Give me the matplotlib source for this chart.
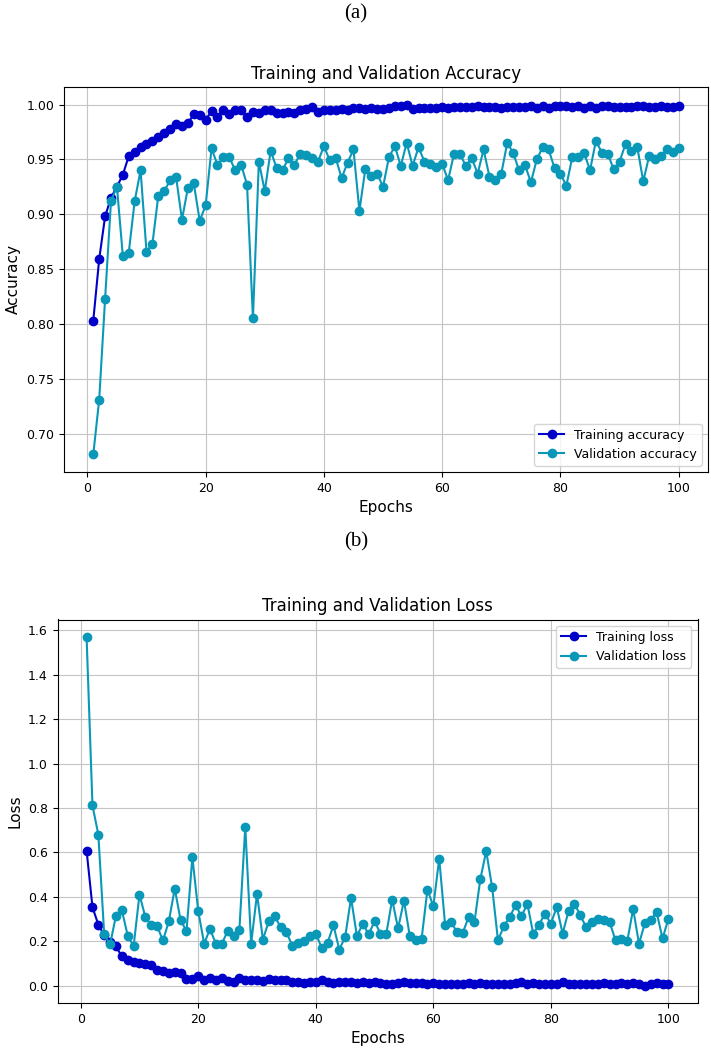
import matplotlib
matplotlib.use("Agg")
import matplotlib.pyplot as plt
import numpy as np

epochs = list(range(1, 101))

train_acc = [
    0.803, 0.859, 0.898, 0.915, 0.925, 0.936, 0.953, 0.957, 0.961, 0.964,
    0.967, 0.970, 0.974, 0.978, 0.982, 0.980, 0.983, 0.991, 0.990, 0.986,
    0.994, 0.989, 0.995, 0.991, 0.995, 0.995, 0.989, 0.993, 0.992, 0.995,
    0.995, 0.992, 0.992, 0.993, 0.992, 0.995, 0.996, 0.998, 0.993, 0.995,
    0.995, 0.995, 0.996, 0.995, 0.997, 0.997, 0.996, 0.997, 0.996, 0.996,
    0.997, 0.999, 0.999, 1.000, 0.996, 0.997, 0.997, 0.997, 0.997, 0.998,
    0.997, 0.998, 0.998, 0.998, 0.998, 0.999, 0.998, 0.998, 0.998, 0.997,
    0.998, 0.998, 0.998, 0.998, 0.999, 0.997, 0.999, 0.997, 0.999, 0.999,
    0.999, 0.998, 0.999, 0.997, 0.999, 0.997, 0.999, 0.999, 0.998, 0.998,
    0.998, 0.998, 0.999, 0.999, 0.998, 0.998, 0.999, 0.998, 0.998, 0.999,
]

val_acc = [
    0.681, 0.731, 0.823, 0.912, 0.925, 0.862, 0.865, 0.912, 0.940, 0.866,
    0.873, 0.917, 0.921, 0.931, 0.934, 0.895, 0.924, 0.928, 0.894, 0.908,
    0.960, 0.945, 0.952, 0.952, 0.940, 0.945, 0.927, 0.805, 0.948, 0.921,
    0.958, 0.942, 0.940, 0.951, 0.945, 0.955, 0.954, 0.951, 0.948, 0.962,
    0.949, 0.951, 0.933, 0.947, 0.959, 0.903, 0.941, 0.935, 0.937, 0.925,
    0.952, 0.962, 0.944, 0.965, 0.944, 0.961, 0.948, 0.946, 0.943, 0.946,
    0.931, 0.955, 0.955, 0.944, 0.951, 0.937, 0.959, 0.934, 0.931, 0.937,
    0.965, 0.956, 0.940, 0.945, 0.929, 0.950, 0.961, 0.959, 0.942, 0.937,
    0.926, 0.952, 0.952, 0.956, 0.940, 0.967, 0.956, 0.955, 0.941, 0.948,
    0.964, 0.958, 0.961, 0.930, 0.953, 0.950, 0.953, 0.959, 0.957, 0.960,
]

train_loss = [
    0.608, 0.353, 0.274, 0.226, 0.198, 0.176, 0.132, 0.117, 0.108, 0.102,
    0.095, 0.093, 0.072, 0.065, 0.057, 0.060, 0.057, 0.030, 0.030, 0.045,
    0.027, 0.033, 0.027, 0.033, 0.020, 0.015, 0.033, 0.026, 0.026, 0.023,
    0.021, 0.030, 0.027, 0.027, 0.023, 0.018, 0.015, 0.011, 0.018, 0.018,
    0.023, 0.015, 0.011, 0.015, 0.015, 0.015, 0.013, 0.015, 0.012, 0.018,
    0.013, 0.008, 0.008, 0.010, 0.015, 0.012, 0.010, 0.012, 0.008, 0.010,
    0.008, 0.007, 0.008, 0.007, 0.008, 0.010, 0.008, 0.010, 0.008, 0.007,
    0.008, 0.008, 0.007, 0.010, 0.015, 0.008, 0.012, 0.008, 0.008, 0.007,
    0.008, 0.015, 0.008, 0.007, 0.008, 0.007, 0.008, 0.007, 0.010, 0.008,
    0.007, 0.010, 0.008, 0.010, 0.008, 0.000, 0.008, 0.010, 0.008, 0.006,
]

val_loss = [
    1.570, 0.811, 0.680, 0.230, 0.185, 0.315, 0.339, 0.225, 0.177, 0.410,
    0.308, 0.273, 0.267, 0.203, 0.290, 0.437, 0.294, 0.245, 0.578, 0.335,
    0.189, 0.255, 0.188, 0.188, 0.245, 0.222, 0.252, 0.715, 0.189, 0.413,
    0.207, 0.290, 0.312, 0.264, 0.240, 0.180, 0.192, 0.200, 0.225, 0.234,
    0.170, 0.192, 0.272, 0.162, 0.219, 0.395, 0.222, 0.279, 0.230, 0.290,
    0.234, 0.234, 0.387, 0.257, 0.383, 0.222, 0.203, 0.210, 0.432, 0.357,
    0.572, 0.275, 0.287, 0.242, 0.237, 0.308, 0.287, 0.480, 0.605, 0.444,
    0.204, 0.267, 0.309, 0.362, 0.312, 0.369, 0.233, 0.275, 0.324, 0.279,
    0.354, 0.234, 0.335, 0.369, 0.317, 0.263, 0.287, 0.302, 0.294, 0.285,
    0.204, 0.210, 0.200, 0.345, 0.188, 0.282, 0.297, 0.330, 0.212, 0.300,
]

TRAIN_C = "#0000C8"
VAL_C = "#0A98B8"

plt.rcParams["font.family"] = ["DejaVu Sans"]
plt.rcParams["grid.color"] = "#c4c4c4"

fig = plt.figure(figsize=(7.11, 10.5), dpi=100)

# (a) accuracy
ax1 = fig.add_axes([64 / 711, 1 - 472 / 1050, 644 / 711, 385 / 1050])
ax1.plot(epochs, train_acc, "-o", color=TRAIN_C, markersize=6, label="Training accuracy")
ax1.plot(epochs, val_acc, "-o", color=VAL_C, markersize=6, label="Validation accuracy")
ax1.set_title("Training and Validation Accuracy", fontsize=12)
ax1.set_xlabel("Epochs", fontsize=11)
ax1.set_ylabel("Accuracy", fontsize=11)
ax1.grid(True)
ax1.tick_params(labelsize=9)
ax1.legend(loc="lower right", fontsize=9)

# (b) loss
ax2 = fig.add_axes([57.5 / 711, 1 - 1003 / 1050, 640 / 711, 383.5 / 1050])
ax2.plot(epochs, train_loss, "-o", color=TRAIN_C, markersize=6, label="Training loss")
ax2.plot(epochs, val_loss, "-o", color=VAL_C, markersize=6, label="Validation loss")
ax2.set_title("Training and Validation Loss", fontsize=12)
ax2.set_xlabel("Epochs", fontsize=11)
ax2.set_ylabel("Loss", fontsize=11)
ax2.grid(True)
ax2.tick_params(labelsize=9)
ax2.legend(loc="upper right", fontsize=9)

fig.text(356 / 711, 1 - 14 / 1050, "(a)", ha="center", va="center",
         fontsize=15, family="Liberation Serif")
fig.text(356 / 711, 1 - 542 / 1050, "(b)", ha="center", va="center",
         fontsize=15, family="Liberation Serif")

fig.savefig("out.png", dpi=100)
